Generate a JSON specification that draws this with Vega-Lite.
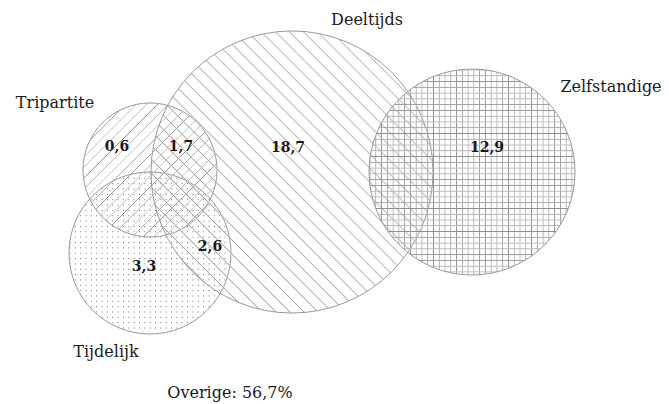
{
"$schema":"https://vega.github.io/schema/vega-lite/v6.json",
"width":669,"height":404,"padding":0,
"autosize":{"type":"fit","contains":"padding"},
"background":"white",
"config":{"view":{"stroke":null}},
"datasets":{
"circles":[
{"name":"Tijdelijk","x":150,"y":253,"d":162},
{"name":"Tripartite","x":150,"y":170,"d":134},
{"name":"Deeltijds","x":292,"y":172,"d":282},
{"name":"Zelfstandige","x":472,"y":172,"d":206}
],
"labels":[
{"text":"Deeltijds","x":367,"y":20},
{"text":"Zelfstandige","x":611,"y":87},
{"text":"Tripartite","x":55,"y":103},
{"text":"Tijdelijk","x":106,"y":352},
{"text":"Overige: 56,7%","x":230,"y":393}
],
"numbers":[
{"text":"0,6","x":117,"y":147},
{"text":"1,7","x":181,"y":147},
{"text":"18,7","x":288,"y":148},
{"text":"12,9","x":487,"y":148},
{"text":"3,3","x":144,"y":267},
{"text":"2,6","x":210,"y":247}
]
},
"encoding":{
"x":{"field":"x","type":"quantitative","scale":{"domain":[0,669],"nice":false,"zero":false},"axis":null},
"y":{"field":"y","type":"quantitative","scale":{"domain":[0,404],"nice":false,"zero":false,"reverse":true},"axis":null}
},
"layer":[
{"data":{"name":"circles"},"transform":[{"filter":"datum.name==='Tijdelijk'"}],
"mark":{"type":"point","shape":"circle","filled":true,"opacity":1,"strokeWidth":0,
"fill":{"gradient":"linear","x1":0,"y1":0,"x2":1,"y2":0,"stops":[
{"offset":0,"color":"#fff"},{"offset":0.006,"color":"#666"},{"offset":0.012,"color":"#fff"},
{"offset":0.033,"color":"#fff"},{"offset":0.039,"color":"#666"},{"offset":0.045,"color":"#fff"},
{"offset":0.066,"color":"#fff"},{"offset":0.072,"color":"#666"},{"offset":0.078,"color":"#fff"},
{"offset":0.099,"color":"#fff"},{"offset":0.105,"color":"#666"},{"offset":0.111,"color":"#fff"},
{"offset":0.132,"color":"#fff"},{"offset":0.138,"color":"#666"},{"offset":0.144,"color":"#fff"},
{"offset":0.165,"color":"#fff"},{"offset":0.171,"color":"#666"},{"offset":0.177,"color":"#fff"},
{"offset":0.198,"color":"#fff"},{"offset":0.204,"color":"#666"},{"offset":0.21,"color":"#fff"},
{"offset":0.231,"color":"#fff"},{"offset":0.237,"color":"#666"},{"offset":0.243,"color":"#fff"},
{"offset":0.264,"color":"#fff"},{"offset":0.27,"color":"#666"},{"offset":0.276,"color":"#fff"},
{"offset":0.297,"color":"#fff"},{"offset":0.303,"color":"#666"},{"offset":0.309,"color":"#fff"},
{"offset":0.33,"color":"#fff"},{"offset":0.336,"color":"#666"},{"offset":0.342,"color":"#fff"},
{"offset":0.363,"color":"#fff"},{"offset":0.369,"color":"#666"},{"offset":0.375,"color":"#fff"},
{"offset":0.396,"color":"#fff"},{"offset":0.402,"color":"#666"},{"offset":0.408,"color":"#fff"},
{"offset":0.429,"color":"#fff"},{"offset":0.435,"color":"#666"},{"offset":0.441,"color":"#fff"},
{"offset":0.462,"color":"#fff"},{"offset":0.468,"color":"#666"},{"offset":0.474,"color":"#fff"},
{"offset":0.495,"color":"#fff"},{"offset":0.501,"color":"#666"},{"offset":0.507,"color":"#fff"},
{"offset":0.528,"color":"#fff"},{"offset":0.534,"color":"#666"},{"offset":0.54,"color":"#fff"},
{"offset":0.561,"color":"#fff"},{"offset":0.567,"color":"#666"},{"offset":0.573,"color":"#fff"},
{"offset":0.594,"color":"#fff"},{"offset":0.6,"color":"#666"},{"offset":0.606,"color":"#fff"},
{"offset":0.627,"color":"#fff"},{"offset":0.633,"color":"#666"},{"offset":0.639,"color":"#fff"},
{"offset":0.66,"color":"#fff"},{"offset":0.666,"color":"#666"},{"offset":0.672,"color":"#fff"},
{"offset":0.693,"color":"#fff"},{"offset":0.699,"color":"#666"},{"offset":0.705,"color":"#fff"},
{"offset":0.726,"color":"#fff"},{"offset":0.732,"color":"#666"},{"offset":0.738,"color":"#fff"},
{"offset":0.759,"color":"#fff"},{"offset":0.765,"color":"#666"},{"offset":0.771,"color":"#fff"},
{"offset":0.792,"color":"#fff"},{"offset":0.798,"color":"#666"},{"offset":0.804,"color":"#fff"},
{"offset":0.825,"color":"#fff"},{"offset":0.831,"color":"#666"},{"offset":0.837,"color":"#fff"},
{"offset":0.858,"color":"#fff"},{"offset":0.864,"color":"#666"},{"offset":0.87,"color":"#fff"},
{"offset":0.891,"color":"#fff"},{"offset":0.897,"color":"#666"},{"offset":0.903,"color":"#fff"},
{"offset":0.924,"color":"#fff"},{"offset":0.93,"color":"#666"},{"offset":0.936,"color":"#fff"},
{"offset":0.957,"color":"#fff"},{"offset":0.963,"color":"#666"},{"offset":0.969,"color":"#fff"}
]}},
"encoding":{"size":{"field":"d","type":"quantitative","scale":{"type":"pow","exponent":2,"domain":[0,300],"range":[0,90000]},"legend":null}}},
{"data":{"name":"circles"},"transform":[{"filter":"datum.name==='Tijdelijk'"}],
"mark":{"type":"point","shape":"circle","filled":true,"opacity":1,"stroke":"#999","strokeWidth":1,
"fill":{"gradient":"linear","x1":0,"y1":0,"x2":0,"y2":1,"stops":[
{"offset":0,"color":"#fff"},{"offset":0.006,"color":"#fff0"},{"offset":0.012,"color":"#fff"},
{"offset":0.033,"color":"#fff"},{"offset":0.039,"color":"#fff0"},{"offset":0.045,"color":"#fff"},
{"offset":0.066,"color":"#fff"},{"offset":0.072,"color":"#fff0"},{"offset":0.078,"color":"#fff"},
{"offset":0.099,"color":"#fff"},{"offset":0.105,"color":"#fff0"},{"offset":0.111,"color":"#fff"},
{"offset":0.132,"color":"#fff"},{"offset":0.138,"color":"#fff0"},{"offset":0.144,"color":"#fff"},
{"offset":0.165,"color":"#fff"},{"offset":0.171,"color":"#fff0"},{"offset":0.177,"color":"#fff"},
{"offset":0.198,"color":"#fff"},{"offset":0.204,"color":"#fff0"},{"offset":0.21,"color":"#fff"},
{"offset":0.231,"color":"#fff"},{"offset":0.237,"color":"#fff0"},{"offset":0.243,"color":"#fff"},
{"offset":0.264,"color":"#fff"},{"offset":0.27,"color":"#fff0"},{"offset":0.276,"color":"#fff"},
{"offset":0.297,"color":"#fff"},{"offset":0.303,"color":"#fff0"},{"offset":0.309,"color":"#fff"},
{"offset":0.33,"color":"#fff"},{"offset":0.336,"color":"#fff0"},{"offset":0.342,"color":"#fff"},
{"offset":0.363,"color":"#fff"},{"offset":0.369,"color":"#fff0"},{"offset":0.375,"color":"#fff"},
{"offset":0.396,"color":"#fff"},{"offset":0.402,"color":"#fff0"},{"offset":0.408,"color":"#fff"},
{"offset":0.429,"color":"#fff"},{"offset":0.435,"color":"#fff0"},{"offset":0.441,"color":"#fff"},
{"offset":0.462,"color":"#fff"},{"offset":0.468,"color":"#fff0"},{"offset":0.474,"color":"#fff"},
{"offset":0.495,"color":"#fff"},{"offset":0.501,"color":"#fff0"},{"offset":0.507,"color":"#fff"},
{"offset":0.528,"color":"#fff"},{"offset":0.534,"color":"#fff0"},{"offset":0.54,"color":"#fff"},
{"offset":0.561,"color":"#fff"},{"offset":0.567,"color":"#fff0"},{"offset":0.573,"color":"#fff"},
{"offset":0.594,"color":"#fff"},{"offset":0.6,"color":"#fff0"},{"offset":0.606,"color":"#fff"},
{"offset":0.627,"color":"#fff"},{"offset":0.633,"color":"#fff0"},{"offset":0.639,"color":"#fff"},
{"offset":0.66,"color":"#fff"},{"offset":0.666,"color":"#fff0"},{"offset":0.672,"color":"#fff"},
{"offset":0.693,"color":"#fff"},{"offset":0.699,"color":"#fff0"},{"offset":0.705,"color":"#fff"},
{"offset":0.726,"color":"#fff"},{"offset":0.732,"color":"#fff0"},{"offset":0.738,"color":"#fff"},
{"offset":0.759,"color":"#fff"},{"offset":0.765,"color":"#fff0"},{"offset":0.771,"color":"#fff"},
{"offset":0.792,"color":"#fff"},{"offset":0.798,"color":"#fff0"},{"offset":0.804,"color":"#fff"},
{"offset":0.825,"color":"#fff"},{"offset":0.831,"color":"#fff0"},{"offset":0.837,"color":"#fff"},
{"offset":0.858,"color":"#fff"},{"offset":0.864,"color":"#fff0"},{"offset":0.87,"color":"#fff"},
{"offset":0.891,"color":"#fff"},{"offset":0.897,"color":"#fff0"},{"offset":0.903,"color":"#fff"},
{"offset":0.924,"color":"#fff"},{"offset":0.93,"color":"#fff0"},{"offset":0.936,"color":"#fff"},
{"offset":0.957,"color":"#fff"},{"offset":0.963,"color":"#fff0"},{"offset":0.969,"color":"#fff"}
]}},
"encoding":{"size":{"field":"d","type":"quantitative","scale":{"type":"pow","exponent":2,"domain":[0,300],"range":[0,90000]},"legend":null}}},
{"data":{"name":"circles"},"transform":[{"filter":"datum.name==='Tripartite'"}],
"mark":{"type":"point","shape":"circle","filled":true,"opacity":1,"stroke":"#999","strokeWidth":1,
"fill":{"gradient":"linear","x1":0,"y1":0,"x2":1,"y2":1,"stops":[
{"offset":0.12,"color":"#fff0"},{"offset":0.1237,"color":"#888"},{"offset":0.1274,"color":"#fff0"},
{"offset":0.16,"color":"#fff0"},{"offset":0.1637,"color":"#888"},{"offset":0.1674,"color":"#fff0"},
{"offset":0.2,"color":"#fff0"},{"offset":0.2037,"color":"#888"},{"offset":0.2074,"color":"#fff0"},
{"offset":0.24,"color":"#fff0"},{"offset":0.2437,"color":"#888"},{"offset":0.2474,"color":"#fff0"},
{"offset":0.28,"color":"#fff0"},{"offset":0.2837,"color":"#888"},{"offset":0.2874,"color":"#fff0"},
{"offset":0.32,"color":"#fff0"},{"offset":0.3237,"color":"#888"},{"offset":0.3274,"color":"#fff0"},
{"offset":0.36,"color":"#fff0"},{"offset":0.3637,"color":"#888"},{"offset":0.3674,"color":"#fff0"},
{"offset":0.4,"color":"#fff0"},{"offset":0.4037,"color":"#888"},{"offset":0.4074,"color":"#fff0"},
{"offset":0.44,"color":"#fff0"},{"offset":0.4437,"color":"#888"},{"offset":0.4474,"color":"#fff0"},
{"offset":0.48,"color":"#fff0"},{"offset":0.4837,"color":"#888"},{"offset":0.4874,"color":"#fff0"},
{"offset":0.52,"color":"#fff0"},{"offset":0.5237,"color":"#888"},{"offset":0.5274,"color":"#fff0"},
{"offset":0.56,"color":"#fff0"},{"offset":0.5637,"color":"#888"},{"offset":0.5674,"color":"#fff0"},
{"offset":0.6,"color":"#fff0"},{"offset":0.6037,"color":"#888"},{"offset":0.6074,"color":"#fff0"},
{"offset":0.64,"color":"#fff0"},{"offset":0.6437,"color":"#888"},{"offset":0.6474,"color":"#fff0"},
{"offset":0.68,"color":"#fff0"},{"offset":0.6837,"color":"#888"},{"offset":0.6874,"color":"#fff0"},
{"offset":0.72,"color":"#fff0"},{"offset":0.7237,"color":"#888"},{"offset":0.7274,"color":"#fff0"},
{"offset":0.76,"color":"#fff0"},{"offset":0.7637,"color":"#888"},{"offset":0.7674,"color":"#fff0"},
{"offset":0.8,"color":"#fff0"},{"offset":0.8037,"color":"#888"},{"offset":0.8074,"color":"#fff0"},
{"offset":0.84,"color":"#fff0"},{"offset":0.8437,"color":"#888"},{"offset":0.8474,"color":"#fff0"}
]}},
"encoding":{"size":{"field":"d","type":"quantitative","scale":{"type":"pow","exponent":2,"domain":[0,300],"range":[0,90000]},"legend":null}}},
{"data":{"name":"circles"},"transform":[{"filter":"datum.name==='Deeltijds'"}],
"mark":{"type":"point","shape":"circle","filled":true,"opacity":1,"stroke":"#999","strokeWidth":1,
"fill":{"gradient":"linear","x1":0.146,"y1":0.854,"x2":0.854,"y2":0.146,"stops":[
{"offset":0,"color":"#fff0"},{"offset":0.0045,"color":"#aaa"},{"offset":0.009,"color":"#fff0"},
{"offset":0.035,"color":"#fff0"},{"offset":0.0395,"color":"#aaa"},{"offset":0.044,"color":"#fff0"},
{"offset":0.07,"color":"#fff0"},{"offset":0.0745,"color":"#aaa"},{"offset":0.079,"color":"#fff0"},
{"offset":0.105,"color":"#fff0"},{"offset":0.1095,"color":"#aaa"},{"offset":0.114,"color":"#fff0"},
{"offset":0.14,"color":"#fff0"},{"offset":0.1445,"color":"#aaa"},{"offset":0.149,"color":"#fff0"},
{"offset":0.175,"color":"#fff0"},{"offset":0.1795,"color":"#aaa"},{"offset":0.184,"color":"#fff0"},
{"offset":0.21,"color":"#fff0"},{"offset":0.2145,"color":"#aaa"},{"offset":0.219,"color":"#fff0"},
{"offset":0.245,"color":"#fff0"},{"offset":0.2495,"color":"#aaa"},{"offset":0.254,"color":"#fff0"},
{"offset":0.28,"color":"#fff0"},{"offset":0.2845,"color":"#aaa"},{"offset":0.289,"color":"#fff0"},
{"offset":0.315,"color":"#fff0"},{"offset":0.3195,"color":"#aaa"},{"offset":0.324,"color":"#fff0"},
{"offset":0.35,"color":"#fff0"},{"offset":0.3545,"color":"#aaa"},{"offset":0.359,"color":"#fff0"},
{"offset":0.385,"color":"#fff0"},{"offset":0.3895,"color":"#aaa"},{"offset":0.394,"color":"#fff0"},
{"offset":0.42,"color":"#fff0"},{"offset":0.4245,"color":"#aaa"},{"offset":0.429,"color":"#fff0"},
{"offset":0.455,"color":"#fff0"},{"offset":0.4595,"color":"#aaa"},{"offset":0.464,"color":"#fff0"},
{"offset":0.49,"color":"#fff0"},{"offset":0.4945,"color":"#aaa"},{"offset":0.499,"color":"#fff0"},
{"offset":0.525,"color":"#fff0"},{"offset":0.5295,"color":"#aaa"},{"offset":0.534,"color":"#fff0"},
{"offset":0.56,"color":"#fff0"},{"offset":0.5645,"color":"#aaa"},{"offset":0.569,"color":"#fff0"},
{"offset":0.595,"color":"#fff0"},{"offset":0.5995,"color":"#aaa"},{"offset":0.604,"color":"#fff0"},
{"offset":0.63,"color":"#fff0"},{"offset":0.6345,"color":"#aaa"},{"offset":0.639,"color":"#fff0"},
{"offset":0.665,"color":"#fff0"},{"offset":0.6695,"color":"#aaa"},{"offset":0.674,"color":"#fff0"},
{"offset":0.7,"color":"#fff0"},{"offset":0.7045,"color":"#aaa"},{"offset":0.709,"color":"#fff0"},
{"offset":0.735,"color":"#fff0"},{"offset":0.7395,"color":"#aaa"},{"offset":0.744,"color":"#fff0"},
{"offset":0.77,"color":"#fff0"},{"offset":0.7745,"color":"#aaa"},{"offset":0.779,"color":"#fff0"},
{"offset":0.805,"color":"#fff0"},{"offset":0.8095,"color":"#aaa"},{"offset":0.814,"color":"#fff0"},
{"offset":0.84,"color":"#fff0"},{"offset":0.8445,"color":"#aaa"},{"offset":0.849,"color":"#fff0"},
{"offset":0.875,"color":"#fff0"},{"offset":0.8795,"color":"#aaa"},{"offset":0.884,"color":"#fff0"},
{"offset":0.91,"color":"#fff0"},{"offset":0.9145,"color":"#aaa"},{"offset":0.919,"color":"#fff0"},
{"offset":0.945,"color":"#fff0"},{"offset":0.9495,"color":"#aaa"},{"offset":0.954,"color":"#fff0"},
{"offset":0.98,"color":"#fff0"},{"offset":0.9845,"color":"#aaa"},{"offset":0.989,"color":"#fff0"}
]}},
"encoding":{"size":{"field":"d","type":"quantitative","scale":{"type":"pow","exponent":2,"domain":[0,300],"range":[0,90000]},"legend":null}}},
{"data":{"name":"circles"},"transform":[{"filter":"datum.name==='Zelfstandige'"}],
"mark":{"type":"point","shape":"circle","filled":true,"opacity":1,"strokeWidth":0,
"fill":{"gradient":"linear","x1":0,"y1":0,"x2":1,"y2":0,"stops":[
{"offset":0,"color":"#fff0"},{"offset":0.005,"color":"#888"},{"offset":0.01,"color":"#fff0"},
{"offset":0.028,"color":"#fff0"},{"offset":0.033,"color":"#888"},{"offset":0.038,"color":"#fff0"},
{"offset":0.056,"color":"#fff0"},{"offset":0.061,"color":"#888"},{"offset":0.066,"color":"#fff0"},
{"offset":0.084,"color":"#fff0"},{"offset":0.089,"color":"#888"},{"offset":0.094,"color":"#fff0"},
{"offset":0.112,"color":"#fff0"},{"offset":0.117,"color":"#888"},{"offset":0.122,"color":"#fff0"},
{"offset":0.14,"color":"#fff0"},{"offset":0.145,"color":"#888"},{"offset":0.15,"color":"#fff0"},
{"offset":0.168,"color":"#fff0"},{"offset":0.173,"color":"#888"},{"offset":0.178,"color":"#fff0"},
{"offset":0.196,"color":"#fff0"},{"offset":0.201,"color":"#888"},{"offset":0.206,"color":"#fff0"},
{"offset":0.224,"color":"#fff0"},{"offset":0.229,"color":"#888"},{"offset":0.234,"color":"#fff0"},
{"offset":0.252,"color":"#fff0"},{"offset":0.257,"color":"#888"},{"offset":0.262,"color":"#fff0"},
{"offset":0.28,"color":"#fff0"},{"offset":0.285,"color":"#888"},{"offset":0.29,"color":"#fff0"},
{"offset":0.308,"color":"#fff0"},{"offset":0.313,"color":"#888"},{"offset":0.318,"color":"#fff0"},
{"offset":0.336,"color":"#fff0"},{"offset":0.341,"color":"#888"},{"offset":0.346,"color":"#fff0"},
{"offset":0.364,"color":"#fff0"},{"offset":0.369,"color":"#888"},{"offset":0.374,"color":"#fff0"},
{"offset":0.392,"color":"#fff0"},{"offset":0.397,"color":"#888"},{"offset":0.402,"color":"#fff0"},
{"offset":0.42,"color":"#fff0"},{"offset":0.425,"color":"#888"},{"offset":0.43,"color":"#fff0"},
{"offset":0.448,"color":"#fff0"},{"offset":0.453,"color":"#888"},{"offset":0.458,"color":"#fff0"},
{"offset":0.476,"color":"#fff0"},{"offset":0.481,"color":"#888"},{"offset":0.486,"color":"#fff0"},
{"offset":0.504,"color":"#fff0"},{"offset":0.509,"color":"#888"},{"offset":0.514,"color":"#fff0"},
{"offset":0.532,"color":"#fff0"},{"offset":0.537,"color":"#888"},{"offset":0.542,"color":"#fff0"},
{"offset":0.56,"color":"#fff0"},{"offset":0.565,"color":"#888"},{"offset":0.57,"color":"#fff0"},
{"offset":0.588,"color":"#fff0"},{"offset":0.593,"color":"#888"},{"offset":0.598,"color":"#fff0"},
{"offset":0.616,"color":"#fff0"},{"offset":0.621,"color":"#888"},{"offset":0.626,"color":"#fff0"},
{"offset":0.644,"color":"#fff0"},{"offset":0.649,"color":"#888"},{"offset":0.654,"color":"#fff0"},
{"offset":0.672,"color":"#fff0"},{"offset":0.677,"color":"#888"},{"offset":0.682,"color":"#fff0"},
{"offset":0.7,"color":"#fff0"},{"offset":0.705,"color":"#888"},{"offset":0.71,"color":"#fff0"},
{"offset":0.728,"color":"#fff0"},{"offset":0.733,"color":"#888"},{"offset":0.738,"color":"#fff0"},
{"offset":0.756,"color":"#fff0"},{"offset":0.761,"color":"#888"},{"offset":0.766,"color":"#fff0"},
{"offset":0.784,"color":"#fff0"},{"offset":0.789,"color":"#888"},{"offset":0.794,"color":"#fff0"},
{"offset":0.812,"color":"#fff0"},{"offset":0.817,"color":"#888"},{"offset":0.822,"color":"#fff0"},
{"offset":0.84,"color":"#fff0"},{"offset":0.845,"color":"#888"},{"offset":0.85,"color":"#fff0"},
{"offset":0.868,"color":"#fff0"},{"offset":0.873,"color":"#888"},{"offset":0.878,"color":"#fff0"},
{"offset":0.896,"color":"#fff0"},{"offset":0.901,"color":"#888"},{"offset":0.906,"color":"#fff0"},
{"offset":0.924,"color":"#fff0"},{"offset":0.929,"color":"#888"},{"offset":0.934,"color":"#fff0"},
{"offset":0.952,"color":"#fff0"},{"offset":0.957,"color":"#888"},{"offset":0.962,"color":"#fff0"},
{"offset":0.98,"color":"#fff0"},{"offset":0.985,"color":"#888"},{"offset":0.99,"color":"#fff0"}
]}},
"encoding":{"size":{"field":"d","type":"quantitative","scale":{"type":"pow","exponent":2,"domain":[0,300],"range":[0,90000]},"legend":null}}},
{"data":{"name":"circles"},"transform":[{"filter":"datum.name==='Zelfstandige'"}],
"mark":{"type":"point","shape":"circle","filled":true,"opacity":1,"stroke":"#999","strokeWidth":1,
"fill":{"gradient":"linear","x1":0,"y1":0,"x2":0,"y2":1,"stops":[
{"offset":0,"color":"#fff0"},{"offset":0.005,"color":"#888"},{"offset":0.01,"color":"#fff0"},
{"offset":0.028,"color":"#fff0"},{"offset":0.033,"color":"#888"},{"offset":0.038,"color":"#fff0"},
{"offset":0.056,"color":"#fff0"},{"offset":0.061,"color":"#888"},{"offset":0.066,"color":"#fff0"},
{"offset":0.084,"color":"#fff0"},{"offset":0.089,"color":"#888"},{"offset":0.094,"color":"#fff0"},
{"offset":0.112,"color":"#fff0"},{"offset":0.117,"color":"#888"},{"offset":0.122,"color":"#fff0"},
{"offset":0.14,"color":"#fff0"},{"offset":0.145,"color":"#888"},{"offset":0.15,"color":"#fff0"},
{"offset":0.168,"color":"#fff0"},{"offset":0.173,"color":"#888"},{"offset":0.178,"color":"#fff0"},
{"offset":0.196,"color":"#fff0"},{"offset":0.201,"color":"#888"},{"offset":0.206,"color":"#fff0"},
{"offset":0.224,"color":"#fff0"},{"offset":0.229,"color":"#888"},{"offset":0.234,"color":"#fff0"},
{"offset":0.252,"color":"#fff0"},{"offset":0.257,"color":"#888"},{"offset":0.262,"color":"#fff0"},
{"offset":0.28,"color":"#fff0"},{"offset":0.285,"color":"#888"},{"offset":0.29,"color":"#fff0"},
{"offset":0.308,"color":"#fff0"},{"offset":0.313,"color":"#888"},{"offset":0.318,"color":"#fff0"},
{"offset":0.336,"color":"#fff0"},{"offset":0.341,"color":"#888"},{"offset":0.346,"color":"#fff0"},
{"offset":0.364,"color":"#fff0"},{"offset":0.369,"color":"#888"},{"offset":0.374,"color":"#fff0"},
{"offset":0.392,"color":"#fff0"},{"offset":0.397,"color":"#888"},{"offset":0.402,"color":"#fff0"},
{"offset":0.42,"color":"#fff0"},{"offset":0.425,"color":"#888"},{"offset":0.43,"color":"#fff0"},
{"offset":0.448,"color":"#fff0"},{"offset":0.453,"color":"#888"},{"offset":0.458,"color":"#fff0"},
{"offset":0.476,"color":"#fff0"},{"offset":0.481,"color":"#888"},{"offset":0.486,"color":"#fff0"},
{"offset":0.504,"color":"#fff0"},{"offset":0.509,"color":"#888"},{"offset":0.514,"color":"#fff0"},
{"offset":0.532,"color":"#fff0"},{"offset":0.537,"color":"#888"},{"offset":0.542,"color":"#fff0"},
{"offset":0.56,"color":"#fff0"},{"offset":0.565,"color":"#888"},{"offset":0.57,"color":"#fff0"},
{"offset":0.588,"color":"#fff0"},{"offset":0.593,"color":"#888"},{"offset":0.598,"color":"#fff0"},
{"offset":0.616,"color":"#fff0"},{"offset":0.621,"color":"#888"},{"offset":0.626,"color":"#fff0"},
{"offset":0.644,"color":"#fff0"},{"offset":0.649,"color":"#888"},{"offset":0.654,"color":"#fff0"},
{"offset":0.672,"color":"#fff0"},{"offset":0.677,"color":"#888"},{"offset":0.682,"color":"#fff0"},
{"offset":0.7,"color":"#fff0"},{"offset":0.705,"color":"#888"},{"offset":0.71,"color":"#fff0"},
{"offset":0.728,"color":"#fff0"},{"offset":0.733,"color":"#888"},{"offset":0.738,"color":"#fff0"},
{"offset":0.756,"color":"#fff0"},{"offset":0.761,"color":"#888"},{"offset":0.766,"color":"#fff0"},
{"offset":0.784,"color":"#fff0"},{"offset":0.789,"color":"#888"},{"offset":0.794,"color":"#fff0"},
{"offset":0.812,"color":"#fff0"},{"offset":0.817,"color":"#888"},{"offset":0.822,"color":"#fff0"},
{"offset":0.84,"color":"#fff0"},{"offset":0.845,"color":"#888"},{"offset":0.85,"color":"#fff0"},
{"offset":0.868,"color":"#fff0"},{"offset":0.873,"color":"#888"},{"offset":0.878,"color":"#fff0"},
{"offset":0.896,"color":"#fff0"},{"offset":0.901,"color":"#888"},{"offset":0.906,"color":"#fff0"},
{"offset":0.924,"color":"#fff0"},{"offset":0.929,"color":"#888"},{"offset":0.934,"color":"#fff0"},
{"offset":0.952,"color":"#fff0"},{"offset":0.957,"color":"#888"},{"offset":0.962,"color":"#fff0"},
{"offset":0.98,"color":"#fff0"},{"offset":0.985,"color":"#888"},{"offset":0.99,"color":"#fff0"}
]}},
"encoding":{"size":{"field":"d","type":"quantitative","scale":{"type":"pow","exponent":2,"domain":[0,300],"range":[0,90000]},"legend":null}}},
{"data":{"name":"labels"},
"mark":{"type":"text","font":"DejaVu Serif","fontSize":16,"color":"#1a1a1a","align":"center","baseline":"middle"},
"encoding":{"text":{"field":"text","type":"nominal"}}},
{"data":{"name":"numbers"},
"mark":{"type":"text","font":"DejaVu Serif","fontSize":14,"fontWeight":"bold","color":"#1a1a1a","align":"center","baseline":"middle"},
"encoding":{"text":{"field":"text","type":"nominal"}}}
]
}
